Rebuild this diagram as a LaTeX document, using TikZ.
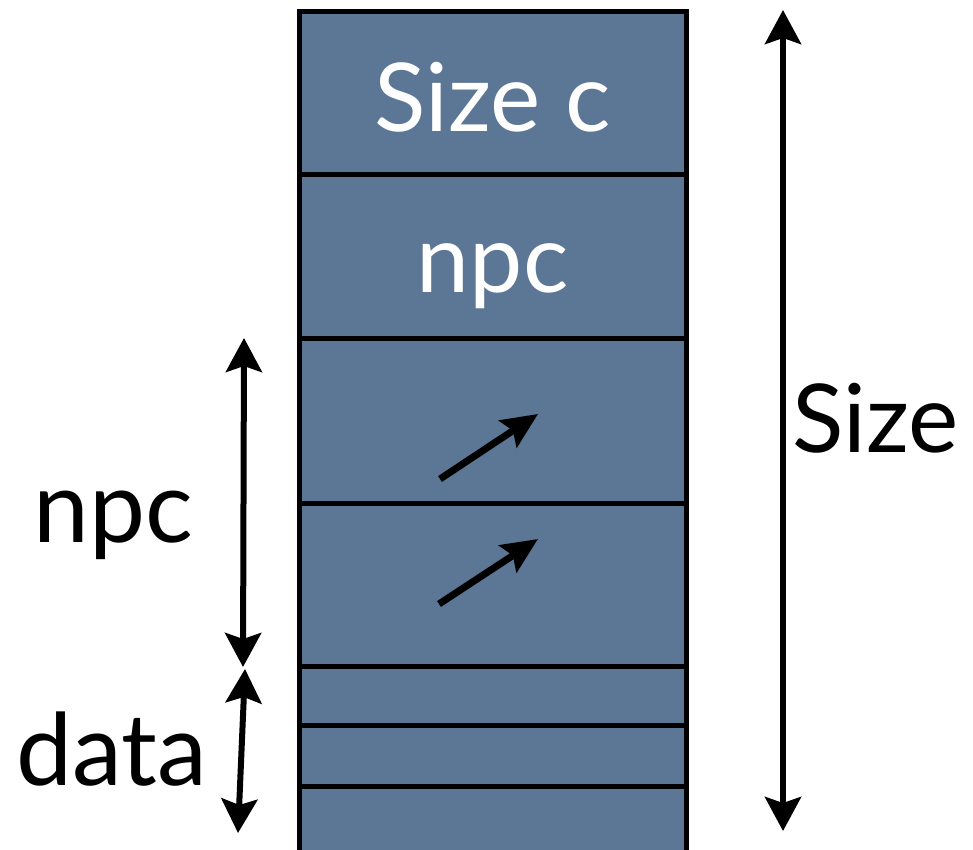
\documentclass[tikz,border=0pt]{standalone}
\usepackage{fontspec}
\setmainfont{Lato}
\usetikzlibrary{arrows.meta}
\definecolor{slateblue}{RGB}{92,118,149}
\tikzset{
  cell/.style={draw=black, line width=5pt, fill=slateblue, minimum width=387pt,
    inner sep=0pt},
  celltext/.style={text=white, font=\fontsize{95}{105}\selectfont, anchor=base, inner sep=0pt},
  dim/.style={line width=6pt, {Stealth[length=34pt,width=36pt,inset=6pt]}-{Stealth[length=34pt,width=36pt,inset=6pt]}},
  ptr/.style={line width=7pt, -{Stealth[length=36pt,width=32pt,inset=6pt]}},
  biglabel/.style={font=\fontsize{100}{110}\selectfont, inner sep=0pt},
  sidelabel/.style={font=\fontsize{95}{105}\selectfont, inner sep=0pt}
}
\begin{document}
\begin{tikzpicture}[x=1pt,y=-1pt]
\useasboundingbox (0,0) rectangle (973,850);

% stack of cells, top to bottom
\node[cell, minimum height=163pt] (sizec) at (492.5,93.5) {};
\node[cell, minimum height=163pt] (npccell) at (492.5,256.5) {};
\node[cell, minimum height=165pt] (p1) at (492.5,420.5) {};
\node[cell, minimum height=163pt] (p2) at (492.5,584.5) {};
\node[cell, minimum height=59pt] (d1) at (492.5,695.5) {};
\node[cell, minimum height=61pt] (d2) at (492.5,755.5) {};
\node[cell, minimum height=76pt] (d3) at (492.5,824) {};

% cell texts
\node[celltext] (tsizec) at (492.5,132) {Size c};
\node[celltext] (tnpc) at (492.5,292) {npc};

% pointers inside the free cells
\coordinate (a1s) at (440,479);
\coordinate (a1e) at (538,414);
\coordinate (a2s) at (439,604);
\coordinate (a2e) at (538,539);
\draw[ptr] (a1s) -- (a1e);
\draw[ptr] (a2s) -- (a2e);

% overall size
\coordinate (stop) at (783,10);
\coordinate (sbot) at (783,831);
\draw[dim] (stop) -- (sbot);
\node[sidelabel, anchor=base west] (lsize) at (792,452) {Size};

% npc extent
\coordinate (ntop) at (244,338);
\coordinate (nbot) at (243,667);
\draw[dim] (ntop) -- (nbot);
\node[biglabel, anchor=base] (lnpc) at (113,542) {npc};

% data extent
\coordinate (dtop) at (245,669);
\coordinate (dbot) at (238,833);
\draw[dim] (dtop) -- (dbot);
\node[biglabel, anchor=base] (ldata) at (112,785) {data};
\end{tikzpicture}
\end{document}
